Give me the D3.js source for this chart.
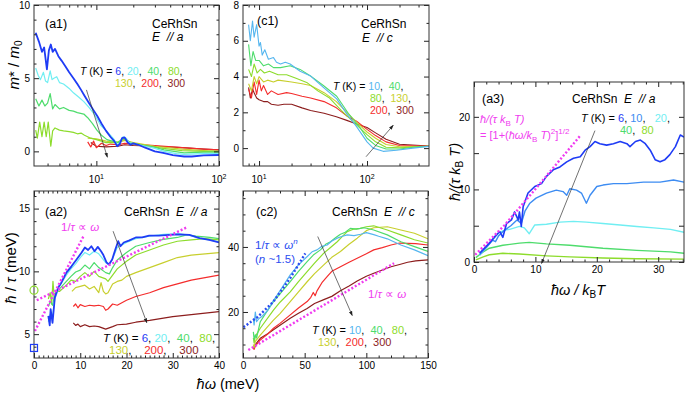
<!DOCTYPE html>
<html>
<head>
<meta charset="utf-8">
<script src="https://cdn.jsdelivr.net/npm/d3@7"></script>
<style>
body { margin: 0; background: #fff; }
svg { font-family: "Liberation Sans", Arial, Helvetica, sans-serif; }
text { white-space: pre; }
.tick text { font-family: "Liberation Sans", Arial, Helvetica, sans-serif; font-size: 10px; }
</style>
</head>
<body>
<svg id="fig" width="685" height="395"></svg>
<script>
// ---- colours per temperature ----
var col = {6: "#1f3cf5", 10: "#55b6ef", 20: "#70eef2", 40: "#4edc6c", 80: "#8ddc2c",
           130: "#c8cf2e", 200: "#f42c2c", 300: "#8c1d1d"};
var col10a3 = "#3d8cf2";
var magenta = "#f03cf0";
var fitBlue = "#2a4cf0";

// ---- (a1) m*/m0 vs hw, E//a ----
var a1Temps = [6, 20, 40, 80, 130, 200, 300];
var a1_6 = [[3.2,8.1],[3.4,7.5],[3.6,6.8],[3.75,7.1],[3.95,5.6],[4.1,6.9],[4.25,7.3],[4.4,6.8],[4.6,7.0],[4.9,6.5],[5.2,6.2],[5.6,5.8],[6.0,5.4],[6.5,5.0],[7.0,4.6],[7.5,4.2],[8.0,3.8],[8.7,3.3],[9.5,2.8],[10.2,2.4],[11,1.9],[12,1.4],[13,1.0],[14,0.7],[14.8,0.35],[15.5,0.5],[16.2,0.9],[17,0.95],[18,0.6],[19,0.45],[20,0.55],[22,0.45],[25,0.25],[30,0.0],[35,-0.1],[42,-0.25],[52,-0.35],[60,-0.35],[75,-0.28],[100,-0.25]];
var a1_20 = [[3.2,5.7],[3.35,5.2],[3.5,4.9],[3.7,5.4],[3.85,4.8],[4.0,4.7],[4.2,5.5],[4.35,4.9],[4.5,5.0],[4.75,5.1],[5.0,4.7],[5.4,4.6],[6.0,4.3],[6.5,4.0],[7.2,3.7],[7.9,3.4],[8.7,3.0],[9.5,2.6],[10.8,1.8],[12,1.4],[13,1.1],[14,0.8],[14.8,0.4],[15.5,0.6],[16.5,1.0],[17.5,0.9],[18.5,0.6],[20,0.55],[25,0.35],[30,0.2],[35.6,0.0],[45,-0.15],[52,-0.2],[75,-0.15],[100,-0.15]];
var a1_40 = [[3.2,3.6],[3.4,3.1],[3.6,3.5],[3.8,3.1],[4.0,3.3],[4.2,3.95],[4.4,2.9],[4.6,3.2],[5.0,2.9],[5.4,3.0],[6,2.8],[6.5,2.75],[7,2.65],[7.9,2.55],[8.5,2.3],[9.3,1.9],[10.1,1.45],[11,1.1],[12.2,0.8],[13.5,0.7],[15,0.6],[16.5,0.9],[17.5,0.8],[19,0.55],[22,0.45],[27.7,0.35],[35.6,0.1],[52,-0.1],[75,-0.05],[100,-0.05]];
var a1_80 = [[3.2,1.45],[3.3,0.9],[3.45,2.0],[3.6,1.0],[3.75,2.0],[3.9,1.0],[4.05,2.0],[4.25,0.35],[4.4,1.4],[4.6,1.6],[5,1.45],[5.4,1.4],[6,1.35],[6.5,1.3],[7,1.2],[7.5,1.25],[8,1.1],[9,0.9],[10,0.8],[11,0.7],[12,0.6],[14,0.6],[15,0.65],[17,0.85],[19,0.6],[25,0.4],[35,0.2],[50,0.05],[75,0.0],[100,0.0]];
var a1_130 = [[8.5,0.9],[10,0.85],[12,0.7],[15,0.6],[17,0.75],[20,0.6],[30,0.35],[50,0.15],[75,0.05],[100,0.0]];
var a1_200 = [[8.5,0.65],[9,0.3],[9.5,0.7],[10,0.25],[11,0.55],[12,0.4],[13,0.5],[15,0.45],[17,0.55],[20,0.5],[30,0.4],[50,0.25],[75,0.15],[100,0.1]];
var a1_300 = [[9,0.6],[10,0.35],[12,0.3],[15,0.35],[17,0.45],[20,0.4],[30,0.35],[50,0.25],[75,0.15],[100,0.1]];
var a1Arrow = [[8.3,4.2],[12.3,-0.4]];

// ---- (c1) m*/m0 vs hw, E//c ----
var c1Temps = [10, 40, 80, 130, 200, 300];
var c1_10 = [[8,6.9],[8.3,6.0],[8.7,7.1],[9.0,6.2],[9.5,6.9],[10,5.7],[10.3,5.9],[10.7,5.2],[11.3,5.5],[12.2,4.97],[13.6,5.06],[14.5,4.8],[15.8,4.7],[17.5,4.8],[19.4,4.7],[24,4.3],[29.7,4.05],[39.4,3.4],[52.4,2.75],[64.7,1.93],[80,1.2],[100,0.35],[114,0.0],[141,-0.18],[188,-0.12],[266,0.0],[375,0.1]];
var c1_40 = [[8,5.8],[8.4,4.6],[8.8,5.4],[9.3,4.9],[10,4.9],[11,4.6],[12.2,4.7],[13.6,4.5],[15.8,4.5],[19.4,4.6],[24,4.4],[29.7,4.05],[39.4,3.5],[52.4,2.9],[67,1.95],[86,1.15],[100,0.55],[120,0.15],[150,-0.05],[200,-0.05],[270,0.05],[375,0.1]];
var c1_80 = [[8,4.4],[8.5,4.0],[9,4.7],[9.6,4.2],[10.3,4.4],[11.2,4.2],[12.5,4.3],[15,4.1],[18,4.1],[22,3.9],[28,3.65],[35,3.2],[45,2.8],[58,2.1],[75,1.45],[100,0.75],[120,0.35],[150,0.05],[200,0.02],[375,0.1]];
var c1_130 = [[8,3.6],[8.5,3.2],[9,4.0],[9.5,3.6],[10,4.0],[11,3.7],[12,3.8],[13.6,3.7],[15,3.8],[20,3.7],[25,3.6],[30,3.5],[40,3.1],[52,2.6],[65,2.0],[80,1.45],[100,0.9],[120,0.55],[150,0.2],[200,0.08],[375,0.1]];
var c1_200 = [[8,3.3],[8.5,2.8],[9,3.7],[9.5,3.0],[10,3.8],[10.5,3.2],[11,3.5],[12,3.0],[13,3.2],[15,3.0],[18,3.1],[20,3.05],[25,2.9],[30,2.8],[40,2.6],[52,2.25],[65,1.8],[80,1.5],[100,1.05],[120,0.7],[150,0.35],[200,0.15],[375,0.1]];
var c1_300 = [[8,3.4],[8.3,2.8],[8.7,3.3],[9,3.1],[9.5,2.8],[10,2.7],[11,2.6],[12,2.6],[13,2.45],[15,2.4],[17,2.45],[20,2.45],[25,2.25],[30,2.1],[40,1.95],[52,1.75],[65,1.55],[80,1.35],[100,1.15],[120,0.85],[150,0.5],[200,0.22],[375,0.12]];
var c1Arrow = [[98,-0.48],[175,1.28]];

// ---- (a2) hbar/tau vs hw, E//a ----
var a2_6 = [[3.1,6.45],[3.4,5.7],[3.6,7.0],[4.0,5.9],[4.5,7.9],[5.2,8.7],[5.9,9.1],[7.0,9.9],[8.1,10.4],[9.2,10.95],[10.3,11.5],[11.0,11.9],[11.7,11.7],[12.4,12.0],[13.1,11.6],[13.8,11.95],[14.5,11.6],[15.0,11.3],[15.7,10.7],[16.2,10.55],[16.9,10.95],[17.6,11.75],[18.2,12.4],[18.7,12.0],[19.4,12.3],[20.5,12.45],[22,12.7],[23.4,12.7],[24.9,12.85],[27,12.85],[29.3,12.9],[31.4,12.95],[33.6,12.9],[35.8,12.65],[37.9,12.5],[40,12.3]];
var a2_20 = [[3.1,6.0],[3.5,6.6],[4,6.4],[4.5,7.8],[5.5,8.8],[7,9.7],[8,10.2],[9,10.6],[10,11.1],[11,11.5],[12,11.3],[13,11.6],[14,11.4],[15.5,10.7],[16.3,10.5],[17,11.0],[18,11.9],[19,12.1],[20,12.3],[22,12.6],[25,12.8],[28,12.95],[31,13.0],[34,12.85],[36,12.6],[38,12.5],[40,12.35]];
var a2_40 = [[3.1,7.2],[3.5,7.6],[4,7.3],[4.5,8.2],[5.5,8.6],[7,9.2],[8,9.6],[9,9.95],[10,10.1],[11,10.5],[12,10.2],[13,10.7],[14,10.3],[15.5,9.9],[16.3,9.8],[17,10.3],[18,10.9],[19,11.2],[20,11.5],[22,12.0],[25,12.3],[28,12.55],[31,12.7],[33,12.9],[35,12.8],[38,12.7],[40,12.6]];
var a2_80 = [[3.1,7.8],[3.5,8.3],[3.8,7.4],[4.1,9.2],[4.4,7.8],[4.8,8.4],[5.5,8.4],[7,8.9],[8,9.3],[9,9.2],[10,9.6],[11,9.9],[12,9.6],[13,10.0],[14,9.6],[15.5,9.4],[16,9.2],[17,9.7],[18,10.2],[20,10.8],[22,11.3],[25,11.7],[28,12.1],[31,12.4],[34,12.5],[37,12.6],[40,12.5]];
var a2_130 = [[8.2,8.4],[9,8.7],[10,8.8],[11,8.9],[12,8.6],[13,8.8],[14,8.3],[14.5,9.1],[15,8.4],[15.5,8.2],[16,8.3],[17,9.0],[18,9.2],[19,9.3],[20,9.6],[22,9.9],[25,10.3],[28,10.7],[31,11.1],[34,11.3],[37,11.4],[40,11.5]];
var a2_200 = [[8.5,7.2],[9,7.4],[9.5,7.1],[10,7.35],[11,7.2],[12,7.3],[13,7.25],[14,7.3],[15,7.2],[15.5,6.9],[16,7.0],[17,7.4],[18,7.3],[20,7.7],[22,8.0],[25,8.3],[28,8.7],[31,9.0],[34,9.3],[37,9.5],[40,9.7]];
var a2_300 = [[8.5,5.9],[9,5.7],[9.5,5.8],[10,5.6],[11,5.75],[12,5.6],[13,5.65],[14,5.6],[15.5,5.4],[17,5.6],[18,5.75],[20,5.8],[22,5.95],[25,6.1],[30,6.4],[35,6.6],[40,6.8]];
var a2FitSteep = [[0.2,5.25],[10.7,12.8]];
var a2FitFlat = [[0.6,7.7],[33,13.5]];
var a2Circle = [0, 8.5];
var a2Square = [0, 3.9];
var a2Arrow = [[17.1,13.2],[24.4,5.9]];

// ---- (c2) hbar/tau vs hw, E//c ----
var c2_10 = [[8.4,18],[9,16],[10,20],[11,17],[13,18],[15,18.5],[20,20.5],[24.7,23.5],[30,26.5],[38.3,31.4],[45,34.5],[51.9,37],[56,38.5],[60,39.1],[64,40.2],[68.2,40.6],[72,41.8],[76.4,42.7],[80,43.2],[84.5,43.7],[90,43.5],[95.4,43.9],[100,44.4],[106,43.8],[110,43.3],[117,42.5],[128,40.6],[139,39.1],[150,37.3]];
var c2_40 = [[8.4,13.9],[9,11.5],[10,13],[11,12],[14,17],[19.3,20.1],[24.7,23.2],[30,25.6],[38.3,29.3],[45,32.5],[52,35.5],[57,37.5],[62.8,39.1],[67,40.8],[71,41.6],[75,42.8],[79,43.9],[83,44.5],[87,45.7],[92,45.5],[98,45.9],[102,45.6],[106,45.2],[117,43.7],[128,41.6],[139,40.1],[150,38.6]];
var c2_80 = [[8.4,12],[9,10.5],[10,12.5],[14,15],[24.7,20.6],[30,23],[38.3,26.2],[45,29.3],[52,32.4],[58,35],[65.5,38.1],[70,39.5],[76.4,41.6],[80,43],[84.5,44.7],[90,45.5],[95,45.7],[100,46.2],[106,46.5],[117,45.2],[128,43.7],[139,42.2],[150,41.2]];
var c2_130 = [[8.4,10],[9,9],[10,11],[14,12.9],[20,15.5],[24.7,17.5],[30,19.5],[38.3,23.2],[45,26.2],[52,29.3],[58,31.8],[65.5,34.5],[72,36.8],[79,38.6],[86,40.8],[92.6,42.7],[100,45],[106,45.9],[117,46.2],[128,45.2],[139,44.2],[150,42.5]];
var c2_200 = [[8.4,9],[9,8.5],[10,9.5],[14,11.4],[20,13.2],[24.7,15],[30,16.5],[38.3,19.1],[45,21.2],[52,23.2],[55,24.5],[57,26],[58.5,25],[60,26.5],[64,29],[68.2,30.9],[72,32.5],[79,33.9],[86,35.3],[92.6,36.5],[100,37.9],[106,39.1],[113,39.8],[120,40.6],[127,41.2],[133.5,41.1],[140,41.0],[150,40.6]];
var c2_300 = [[8.4,9.3],[9,8.8],[10,10],[14,11.9],[20,13.3],[24.7,14.5],[30,15.9],[38.3,18.1],[45,19.6],[52,21.1],[58,22.6],[65.5,23.8],[72,24.8],[79,26.5],[86,28],[92.6,29.5],[100,31],[106,31.9],[113,32.9],[120,33.9],[127,34.6],[133.5,35.3],[140,35.7],[150,36]];
var c2FitPow = [[0.3,15.3],[12,18.5],[24.7,23.2],[38.3,30.4],[50.5,38]];
var c2FitLin = [[4.3,8.3],[122.5,35]];
var c2Arrow = [[60.6,43.2],[88.6,18.9]];

// ---- (a3) hbar/(tau kB T) vs hw/kBT ----
var a3Temps = [6, 10, 20, 40, 80];
var a3_6 = [[0.9,1.2],[2.5,2.6],[3.5,3.6],[4.2,4.2],[4.7,3.4],[5.3,5.3],[6.1,5.8],[6.6,6.9],[7.2,5.8],[7.4,6.9],[7.7,4.9],[8.0,7.6],[8.8,9.5],[9.9,10.4],[11,10.8],[11.8,11.8],[12.9,12.7],[14,13.1],[15.1,13.8],[16.2,14.3],[17.3,14.5],[18.1,15.4],[18.9,15.9],[19.7,16.6],[20.5,16.3],[21.6,16.1],[22.7,16.3],[23.8,16.6],[24.9,16.3],[25.4,15.9],[26.3,16.6],[27.1,16.8],[27.9,16.3],[28.7,15.4],[29.5,14.1],[30.3,13.8],[31.1,14.1],[31.9,14.8],[32.8,15.9],[33.6,17.5],[34.2,17.2]];
var a3_10 = [[0.9,1.0],[2,2.0],[3,3.0],[3.5,2.8],[4,3.6],[5,4.4],[6,5.0],[7,5.8],[7.7,5.3],[8.3,7.0],[9.1,8.1],[10.1,8.8],[11.8,9.5],[13.4,9.9],[14.5,9.7],[15.1,9.2],[15.6,10.1],[16.7,9.9],[17.5,9.5],[18.3,8.1],[18.9,9.2],[20,10.4],[21,10.6],[22.7,10.8],[24.9,10.8],[27.6,11.0],[30.3,11.0],[32.5,11.3],[34.2,11.0]];
var a3_20 = [[0.9,0.9],[2,2.0],[3,3.0],[4,4.0],[5,4.4],[5.8,4.5],[7.4,4.9],[8.2,4.7],[9,3.9],[9.9,5.1],[11.8,5.2],[14,5.5],[16.2,5.6],[18.3,5.5],[21,5.3],[23.8,5.1],[26.5,4.9],[29.3,4.7],[32,4.5],[34.2,4.1]];
var a3_40 = [[0.3,0.6],[1.5,1.4],[2.5,1.9],[4.7,2.3],[7.4,2.6],[9,2.7],[11.8,2.5],[15.6,2.3],[21,1.9],[26.5,1.6],[32,1.4],[34.2,1.2]];
var a3_80 = [[0.3,0.3],[1.5,0.7],[2.5,1.0],[4.7,1.2],[7.4,1.1],[11.8,0.85],[15.6,0.7],[21,0.55],[26.5,0.45],[34.2,0.4]];
var a3Fit = [[0.2,1.0],[5,5.1],[10,10.05],[17.3,17.4]];
var a3Arrow = [[19.7,18.1],[11,-0.2]];

// ---- drawing ----
var svg = d3.select("#fig");
var defs = svg.append("defs");
defs.append("marker").attr("id", "arr").attr("viewBox", "0 0 10 10")
  .attr("refX", 9).attr("refY", 5).attr("markerWidth", 7).attr("markerHeight", 7)
  .attr("orient", "auto")
  .append("path").attr("d", "M0,1.5L10,5L0,8.5z").attr("fill", "#222");

function makePanel(o) {
  var x = (o.log ? d3.scaleLog() : d3.scaleLinear()).domain(o.xd).range([o.l, o.r]);
  var y = d3.scaleLinear().domain(o.yd).range([o.b, o.t]);
  var g = svg.append("g");
  defs.append("clipPath").attr("id", "clip-" + o.id)
    .append("rect").attr("x", o.l).attr("y", o.t).attr("width", o.r - o.l).attr("height", o.b - o.t);
  var plot = g.append("g").attr("clip-path", "url(#clip-" + o.id + ")");

  function ax(axis, tr) {
    g.append("g").attr("transform", tr).call(axis).call(function(s) { s.select(".domain").remove(); })
      .selectAll("line").attr("stroke", "#222");
  }
  var xf = o.xFmt === undefined ? null : o.xFmt;
  ax(d3.axisBottom(x).tickValues(o.xMaj).tickSize(-5).tickPadding(4).tickFormat(xf), "translate(0," + o.b + ")");
  ax(d3.axisTop(x).tickValues(o.xMaj).tickSize(-5).tickFormat(""), "translate(0," + o.t + ")");
  ax(d3.axisBottom(x).tickValues(o.xMin).tickSize(-2.5).tickFormat(""), "translate(0," + o.b + ")");
  ax(d3.axisTop(x).tickValues(o.xMin).tickSize(-2.5).tickFormat(""), "translate(0," + o.t + ")");
  ax(d3.axisLeft(y).tickValues(o.yMaj).tickSize(-5).tickPadding(4).tickFormat(function(v) { return o.yLab.indexOf(v) >= 0 ? v : ""; }), "translate(" + o.l + ",0)");
  ax(d3.axisRight(y).tickValues(o.yMaj).tickSize(-5).tickFormat(""), "translate(" + o.r + ",0)");
  ax(d3.axisLeft(y).tickValues(o.yMin).tickSize(-2.5).tickFormat(""), "translate(" + o.l + ",0)");
  ax(d3.axisRight(y).tickValues(o.yMin).tickSize(-2.5).tickFormat(""), "translate(" + o.r + ",0)");

  if (o.log) {
    o.xMaj.forEach(function(v) {
      var t = g.append("text").attr("x", x(v)).attr("y", o.b + 17).attr("text-anchor", "middle").attr("font-size", 10);
      t.append("tspan").text("10");
      t.append("tspan").attr("dy", -4).attr("font-size", 7).text(Math.round(Math.log10(v)));
    });
  }
  g.append("rect").attr("x", o.l).attr("y", o.t).attr("width", o.r - o.l).attr("height", o.b - o.t)
    .attr("fill", "none").attr("stroke", "#333").attr("stroke-width", 1);
  return {x: x, y: y, g: g, plot: plot};
}

function curve(p, data, color, w, dash) {
  p.plot.append("path").datum(data)
    .attr("d", d3.line().x(function(d) { return p.x(d[0]); }).y(function(d) { return p.y(d[1]); }))
    .attr("fill", "none").attr("stroke", color).attr("stroke-width", w || 1.1)
    .attr("stroke-linejoin", "round").attr("stroke-dasharray", dash || null);
}
function dotted(p, data, color) { curve(p, data, color, 2.4, "2,2"); }

function arrow(p, ab) {
  p.g.append("line").attr("x1", p.x(ab[0][0])).attr("y1", p.y(ab[0][1]))
    .attr("x2", p.x(ab[1][0])).attr("y2", p.y(ab[1][1]))
    .attr("stroke", "#333").attr("stroke-width", 0.7).attr("marker-end", "url(#arr)");
}

function rich(parent, x, y, parts, fs, opt) {
  var t = parent.append("text").attr("x", x).attr("y", y).attr("font-size", fs || 11);
  if (opt && opt.anchor) t.attr("text-anchor", opt.anchor);
  if (opt && opt.rot) t.attr("transform", "rotate(-90," + x + "," + y + ")");
  parts.forEach(function(p) {
    if (typeof p === "string") p = {t: p};
    var s = t.append("tspan").text(p.t);
    if (p.c) s.attr("fill", p.c);
    if (p.i) s.attr("font-style", "italic");
    if (p.dy) s.attr("dy", p.dy);
    if (p.fs) s.attr("font-size", p.fs);
  });
  return t;
}

// panel a1
var pa1 = makePanel({id: "a1", log: true, xd: [3.1, 100], yd: [-1, 10], l: 34, r: 219, t: 5, b: 166,
  xMaj: [10, 100], xMin: [4,5,6,7,8,9,20,30,40,50,60,70,80,90], xFmt: "",
  yMaj: [0, 5, 10], yLab: [0, 5, 10], yMin: [1,2,3,4,6,7,8,9]});
var a1Curves = [a1_6, a1_20, a1_40, a1_80, a1_130, a1_200, a1_300];
for (var i = a1Curves.length - 1; i >= 0; i--) curve(pa1, a1Curves[i], col[a1Temps[i]], i === 0 ? 1.8 : 1.2);
arrow(pa1, a1Arrow);
rich(pa1.g, 45, 28, ["(a1)"], 12.5);
rich(pa1.g, 152, 28, ["CeRhSn"], 12);
rich(pa1.g, 152, 41, [{t: "E  // a", i: true}], 12);
rich(pa1.g, 80, 75, [{t: "T", i: true}, " (K) = ", {t: "6", c: col[6]}, ", ", {t: "20", c: col[20]}, ",  ",
  {t: "40", c: col[40]}, ",  ", {t: "80", c: col[80]}, ","], 10.5);
rich(pa1.g, 115, 87, [{t: "130", c: col[130]}, ",  ", {t: "200", c: col[200]}, ",  ", {t: "300", c: col[300]}], 10.5);

// panel c1
var pc1 = makePanel({id: "c1", log: true, xd: [7.1, 375], yd: [-1, 8], l: 243, r: 429, t: 5, b: 166,
  xMaj: [10, 100], xMin: [8,9,20,30,40,50,60,70,80,90,200,300], xFmt: "",
  yMaj: [0, 2, 4, 6, 8], yLab: [0, 2, 4, 6, 8], yMin: [1,3,5,7]});
var c1Curves = [c1_10, c1_40, c1_80, c1_130, c1_200, c1_300];
for (i = c1Curves.length - 1; i >= 0; i--) curve(pc1, c1Curves[i], col[c1Temps[i]], 1.1);
arrow(pc1, c1Arrow);
rich(pc1.g, 257, 25, ["(c1)"], 12.5);
rich(pc1.g, 361, 28, ["CeRhSn"], 12);
rich(pc1.g, 362, 42, [{t: "E  // c", i: true}], 12);
rich(pc1.g, 333, 90, [{t: "T", i: true}, " (K) = ", {t: "10", c: col[10]}, ",  ", {t: "40", c: col[40]}, ","], 10.5);
rich(pc1.g, 370, 102, [{t: "80", c: col[80]}, ",  ", {t: "130", c: col[130]}, ","], 10.5);
rich(pc1.g, 370, 114, [{t: "200", c: col[200]}, ",  ", {t: "300", c: col[300]}], 10.5);

// panel a2
var pa2 = makePanel({id: "a2", xd: [0, 40], yd: [3.1, 16.4], l: 34, r: 219, t: 191, b: 358,
  xMaj: [0, 10, 20, 30, 40], xMin: d3.range(1, 40).filter(function(v) { return v % 10; }),
  yMaj: [5, 10, 15], yLab: [5, 10, 15], yMin: [4,6,7,8,9,11,12,13,14,16]});
var a2Curves = [a2_6, a2_20, a2_40, a2_80, a2_130, a2_200, a2_300];
for (i = a2Curves.length - 1; i >= 0; i--) curve(pa2, a2Curves[i], col[a1Temps[i]], i === 0 ? 1.8 : 1.2);
dotted(pa2, a2FitSteep, magenta);
dotted(pa2, a2FitFlat, magenta);
pa2.g.append("circle").attr("cx", pa2.x(a2Circle[0])).attr("cy", pa2.y(a2Circle[1])).attr("r", 4)
  .attr("fill", "none").attr("stroke", col[80]).attr("stroke-width", 1.2);
pa2.g.append("rect").attr("x", pa2.x(a2Square[0]) - 3.5).attr("y", pa2.y(a2Square[1]) - 3.5)
  .attr("width", 7).attr("height", 7).attr("fill", "none").attr("stroke", col[6]).attr("stroke-width", 1.2);
arrow(pa2, a2Arrow);
rich(pa2.g, 45, 216, ["(a2)"], 12.5);
rich(pa2.g, 124, 216, ["CeRhSn  ", {t: "E  // a", i: true}], 12);
rich(pa2.g, 61, 231, [{t: "1/", c: magenta}, {t: "\u03c4", c: magenta, i: true}, {t: " \u221d ", c: magenta}, {t: "\u03c9", c: magenta, i: true}], 11.5);
rich(pa2.g, 103, 342, [{t: "T", i: true}, " (K) = ", {t: "6", c: col[6]}, ", ", {t: "20", c: col[20]}, ",  ",
  {t: "40", c: col[40]}, ",  ", {t: "80", c: col[80]}, ","], 11.5);
rich(pa2.g, 109, 354, [{t: "130", c: col[130]}, ",    ", {t: "200", c: col[200]}, ",    ", {t: "300", c: col[300]}], 11.5);

// panel c2
var pc2 = makePanel({id: "c2", xd: [0, 150], yd: [5.85, 57.2], l: 243, r: 428, t: 191, b: 358,
  xMaj: [0, 50, 100, 150], xMin: [10,20,30,40,60,70,80,90,110,120,130,140],
  yMaj: [20, 40], yLab: [20, 40], yMin: [10,15,25,30,35,45,50,55]});
var c2Curves = [c2_10, c2_40, c2_80, c2_130, c2_200, c2_300];
for (i = c2Curves.length - 1; i >= 0; i--) curve(pc2, c2Curves[i], col[c1Temps[i]], 1.2);
dotted(pc2, c2FitPow, fitBlue);
dotted(pc2, c2FitLin, magenta);
arrow(pc2, c2Arrow);
rich(pc2.g, 256, 216, ["(c2)"], 12.5);
rich(pc2.g, 332, 216, ["CeRhSn  ", {t: "E  // c", i: true}], 12);
rich(pc2.g, 255, 249, [{t: "1/", c: fitBlue}, {t: "\u03c4", c: fitBlue, i: true}, {t: " \u221d ", c: fitBlue},
  {t: "\u03c9", c: fitBlue, i: true}, {t: "n", c: fitBlue, i: true, dy: -5, fs: 8}], 11.5);
rich(pc2.g, 255, 263, [{t: "(", c: fitBlue}, {t: "n", c: fitBlue, i: true}, {t: " ~1.5)", c: fitBlue}], 11.5);
rich(pc2.g, 368, 298, [{t: "1/", c: magenta}, {t: "\u03c4", c: magenta, i: true}, {t: " \u221d ", c: magenta}, {t: "\u03c9", c: magenta, i: true}], 11.5);
rich(pc2.g, 312, 334, [{t: "T", i: true}, " (K) = ", {t: "10", c: col[10]}, ",  ", {t: "40", c: col[40]}, ",  ",
  {t: "80", c: col[80]}, ","], 11);
rich(pc2.g, 318, 346, [{t: "130", c: col[130]}, ",  ", {t: "200", c: col[200]}, ",  ", {t: "300", c: col[300]}], 11);

// panel a3
var pa3 = makePanel({id: "a3", xd: [0, 34.2], yd: [0, 24.8], l: 474, r: 684, t: 82, b: 262,
  xMaj: [0, 10, 20, 30], xMin: [2,4,6,8,12,14,16,18,22,24,26,28,32,34],
  yMaj: [0, 5, 10, 15, 20], yLab: [0, 10, 20], yMin: []});
var a3Curves = [a3_6, a3_10, a3_20, a3_40, a3_80];
var a3Cols = [col[6], col10a3, col[20], col[40], col[80]];
for (i = a3Curves.length - 1; i >= 0; i--) curve(pa3, a3Curves[i], a3Cols[i], i === 0 ? 1.6 : 1.4);
dotted(pa3, a3Fit, magenta);
arrow(pa3, a3Arrow);
rich(pa3.g, 482, 103, ["(a3)"], 12.5);
rich(pa3.g, 572, 103, ["CeRhSn  ", {t: "E  // a", i: true}], 12);
rich(pa3.g, 480, 123, [{t: "\u0127/(\u03c4 ", c: magenta, i: true}, {t: "k", c: magenta, i: true},
  {t: "B", c: magenta, dy: 3, fs: 8}, {t: " T)", c: magenta, i: true, dy: -3}], 11);
rich(pa3.g, 480, 139, [{t: "= [1+(", c: magenta}, {t: "\u0127\u03c9/k", c: magenta, i: true}, {t: "B", c: magenta, dy: 3, fs: 8},
  {t: " T", c: magenta, i: true, dy: -3}, {t: ")", c: magenta}, {t: "2", c: magenta, dy: -5, fs: 8},
  {t: "]", c: magenta, dy: 5}, {t: "1/2", c: magenta, dy: -5, fs: 8}], 11);
rich(pa3.g, 581, 122, [{t: "T", i: true}, " (K) = ", {t: "6", c: col[6]}, ", ", {t: "10", c: col10a3}, ",   ",
  {t: "20", c: col[20]}, ","], 11);
rich(pa3.g, 620, 134, [{t: "40", c: col[40]}, ",  ", {t: "80", c: col[80]}], 11);

// axis titles
rich(svg, 19, 65, [{t: "m", i: true}, "* / ", {t: "m", i: true}, {t: "0", dy: 3, fs: 10}], 15, {anchor: "middle", rot: true});
rich(svg, 16, 268, [{t: "\u0127", i: true}, " / ", {t: "\u03c4", i: true}, " (meV)"], 15, {anchor: "middle", rot: true});
rich(svg, 228, 389, [{t: "\u0127\u03c9", i: true}, " (meV)"], 14.5, {anchor: "middle"});
rich(svg, 460, 172, [{t: "\u0127/(\u03c4 k", i: true}, {t: "B", dy: 3, fs: 10}, {t: " T)", i: true, dy: -3}], 14.5, {anchor: "middle", rot: true});
rich(svg, 578, 295, [{t: "\u0127\u03c9 / k", i: true}, {t: "B", dy: 3, fs: 10}, {t: "T", i: true, dy: -3}], 14.5, {anchor: "middle"});
</script>
</body>
</html>
